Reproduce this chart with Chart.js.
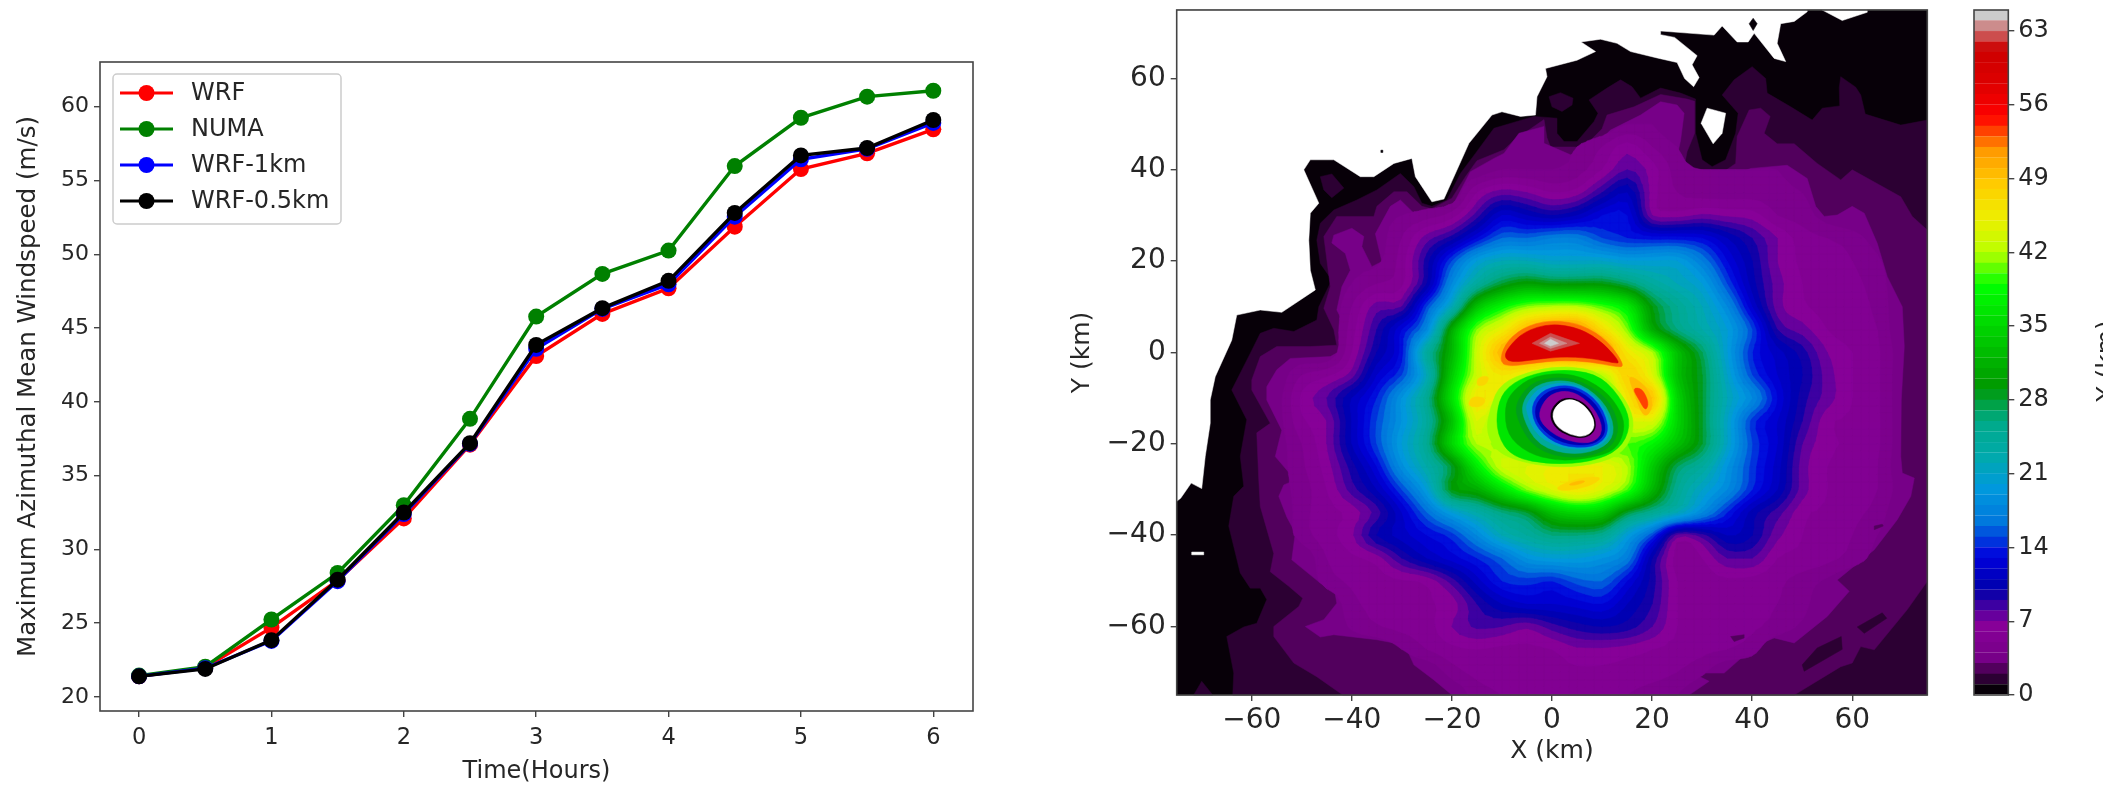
<!DOCTYPE html>
<html><head><meta charset="utf-8">
<script src="https://cdn.jsdelivr.net/npm/chart.js@4"></script>
<style>
html,body{margin:0;background:#fff;overflow:hidden}
canvas{position:absolute;top:0;filter:blur(.65px)}
</style></head><body>
<canvas id="lineChart" width="1000" height="786" style="left:0"></canvas>
<canvas id="fieldChart" width="940" height="786" style="left:1000px"></canvas>
<canvas id="barChart" width="167" height="786" style="left:1940px"></canvas>
<script>
// ---- line panel values
const timeHours=[0,0.5,1,1.5,2,2.5,3,3.5,4,4.5,5,5.5,6];
const WRF=[21.4,22.0,24.7,27.9,32.1,37.1,43.1,45.96,47.7,51.87,55.78,56.84,58.47];
const NUMA=[21.45,22.05,25.25,28.4,33.0,38.85,45.78,48.67,50.25,55.98,59.25,60.68,61.08];
const WRF1km=[21.4,21.95,23.8,27.85,32.4,37.15,43.6,46.3,47.97,52.55,56.44,57.15,58.9];
const WRF05km=[21.4,21.9,23.85,27.95,32.5,37.2,43.86,46.35,48.2,52.8,56.7,57.2,59.1];
const lineXTicks=[0,1,2,3,4,5,6];
const lineYTicks=[20,25,30,35,40,45,50,55,60];
// ---- field panel axes
const fieldTicks=[-60,-40,-20,0,20,40,60];
const barTicks=[0,7,14,21,28,35,42,49,56,63];
// ---- wind speed read on a 5 km grid (m/s)
const gridX=[-60,-55,-50,-45,-40,-35,-30,-25,-20,-15,-10,-5,0,5,10,15,20,25,30,35,40,45,50,55,60,65,70];
const gridY=[50,45,40,35,30,25,20,15,10,5,0,-5,-10,-15,-20,-25,-30,-35,-40,-45,-50,-55,-60,-65,-70,-75];
const r50=[3,3,3,3,3,3,3,3,3,3,3,3,3,3,3,4,4,3,3,3,3,3,3,3,3,3,3];
const r45=[3,3,3,3,3,3,3,3,3,3,3,3,3.5,4,5,6.5,5,4,3,3,3,3,3,3,3,3,3];
const r40=[3,3,3,3,3,3,3,3,3,3.2,4,4,4,4.5,6,8,6.5,4.5,4,4,4,4,3,3,3,3,3];
const r35=[3,3,3,3,3,3,3,3.2,3,6,7.5,7,6,6.5,9,11,6.5,5,4.5,4.5,4.5,4.5,4,3.2,3,3,3];
const r30=[3,3,3,3,3,3.5,4,4.5,5.5,8.5,12,11,10,11,13,13,7,6.5,7.2,6.8,6.5,5,4.5,3.5,3,3,3];
const r25=[3,3,3,3,3,3.5,5,7.5,9.5,13,16,16,17,17,15,14,13.5,13.5,13,11,9,7,5.5,5,4.5,3.5,3];
const r20=[3,3,3,3,3.6,3.8,5.5,9.5,15,20,22,22,21,21,21,20,20,20,17,13,10,7,5.8,5.5,5,4.2,3];
const r15=[3,3,3,3,4,5,5.8,10,18,24,28,30,29,29,29,27,24,22,20,15,10.5,7.5,6,5.6,5.2,4.6,3];
const r10=[3,3,3,3,5,7.5,8,15,22,33,38,41,42,42,40,37,29,25,22,18,12,7.5,6.2,5.6,5.2,4.8,3];
const r5=[3,3,3,3,5.5,9,13,18,31,41,45,50,52,52,47,41,31,26,23,20,15,9,7.5,6,5.4,5,3];
const r0=[3,3,3,3,6,10,13.5,24,32,43,50,52,52,52,52,46,42,33,27,20,14,11.5,9.5,7,6,5.2,3.4];
const rm5=[3,3.2,5,5.8,7.5,12,15,22,34,43,46,44,42,42,42,48,44,33,28,21,15,12,10,7.5,6,5.2,3.3];
const rm10=[3,3.5,6.2,8,11,14,19,25,36,46,44,38,38,38,38,46,49,35,28,22,18,13,9.5,7.5,6,5.2,3.3];
const rm15=[3,3.5,5.8,7,11,15,19,24,33,44,38,38,38,38,38,44,44,35,28,21,14.5,12,9,6.3,5.8,5.2,3.3];
const rm20=[3,3.5,5,7,11,15,20,25,35,42,41,38,38,38,38,40,38,33,28,21,15,12,8,6.3,5.8,5.2,3.3];
const rm25=[3,3.5,4.8,6.5,9.5,13,18.5,23,28,37,43,44,45,45,45,42,34,27,24,19,14.5,11.5,7.5,6,5.6,5,3.2];
const rm30=[3,3.5,4.5,6,8.5,11,15,20,29,31,36,41,44,46,44,40,32,25,21,18,14,11,7.5,6,5.6,5,3.5];
const rm35=[3,3,4.6,5.6,6.4,8.5,12,16,20,23,26,28,33,35,34,28,25,22,18,14,10.5,8.5,6.3,5.8,5.3,4.6,3];
const rm40=[3,3,4.5,5.6,6.8,10,11.5,13,14.5,18,22,24,26,26,25,20,15,7.5,8.5,11,10,7.3,6,5.5,5,4,3];
const rm45=[3,3,3,5,5.8,6.5,9,11,12.5,14,16,19,20,20,19,17,10,5.5,6,8,8,6,5.7,5.3,4.6,3.6,3];
const rm50=[3,3,3,4.5,5.2,5.6,5.9,6.3,8.5,11.5,14,14.5,14,15.5,16,13,9.5,6,5.6,5.8,5.6,5.2,4.6,3.8,3,3,3];
const rm55=[3,3,3,3,4.7,5.3,5.7,5.9,6.5,9,11,12,12,12.5,13,11,9,6,5.6,5.6,5.3,5,4.4,3,3,3,3];
const rm60=[3,3,3,3,4.2,4.9,5.3,5.6,7,8.2,8,7.2,8.5,9.5,10,9.5,8,6,5.6,5.5,5.2,4.6,3.8,3,3,3,3];
const rm65=[3,3,3,3,3,3,4,5,5.7,6,5.7,5.8,6,6.8,6.8,6.5,6,5.6,5.3,5,4.4,3,3,3,3,3,3];
const rm70=[3,3,3,3,3,3,3,3,4.5,5.3,5.5,5.6,5.7,5.8,5.8,5.6,5.4,5,4.2,3,3,3,3,3,3,3,3];
const rm75=[3,3,3,3,3,3,3,3,3,4.5,5,5.2,5.3,5.3,5.3,5,4.6,4,3,3,3,3,3,3,3,3,3];
const gridRows=[r50,r45,r40,r35,r30,r25,r20,r15,r10,r5,r0,rm5,rm10,rm15,rm20,rm25,rm30,rm35,rm40,rm45,rm50,rm55,rm60,rm65,rm70,rm75];
// ---- contours (x km, y km)
const domain=[[-75,-75],[-75,75],[75,75],[75,-75]];
const contour1=[[-63.8,-75],[-63.6,-70.2],[-65,-62.2],[-61.6,-60.1],[-59,-59.3],[-57,-54.1],[-58.3,-51.6],[-60.3,-51.6],[-62.3,-48.3],[-64.6,-38],[-63.6,-31.5],[-61.6,-29.3],[-62.3,-22.8],[-61,-14.7],[-64,-8.2],[-60.3,-0.2],[-58.3,4.2],[-55.6,5.3],[-51.6,4.6],[-47,7.1],[-46.6,10],[-44,15.9],[-46.3,19.5],[-47,24.6],[-46.3,28.3],[-43.6,31.2],[-39,33.4],[-35,35.6],[-30.3,39.2],[-27.6,36.3],[-26,32.7],[-24,32],[-21,33.4],[-18.3,39.2],[-15.3,43.6],[-11.6,49.1],[-3.6,51.7],[1,51.3],[1,48],[2.4,46.2],[5,46.2],[8.4,50.6],[9.2,52.4],[7.4,55.3],[11,57.9],[13.7,59.7],[16,58.2],[17.7,55.7],[21.7,57.9],[25.7,56.8],[28.7,55.5],[28.7,48],[30,42.2],[32,40.7],[34.7,42.2],[36.7,48],[37.2,52.4],[34,56.4],[36.4,59.7],[40,62.6],[42.7,60],[43,56.8],[47.7,53.8],[52,50.9],[54,53.5],[57.5,54],[57.4,58],[57.7,60.4],[60.7,58.1],[61.7,56.4],[62.6,52.2],[69.7,49.8],[75,50.9],[75,-75]];
const contour2=[[-41.8,-75],[-47,-71],[-51.6,-68],[-55.6,-62.2],[-55.6,-60],[-50.6,-55.6],[-49.8,-53.8],[-52.6,-51.2],[-56.3,-48],[-55.6,-44],[-58.3,-33.7],[-58.6,-27.9],[-59,-17.6],[-56.3,-15.5],[-60,-8.2],[-60,-6],[-58.3,-0.9],[-55,1.3],[-48.3,1.3],[-43,1.6],[-43.6,5],[-45.6,9.7],[-44.3,14.4],[-45.6,25.4],[-43,29.8],[-35.6,29.8],[-35,32],[-31.6,35.2],[-29,35.2],[-26,32],[-24,31.5],[-20,33.8],[-17.3,38.5],[-15,42],[-9.6,44.4],[-7.6,46.5],[-1.6,51],[-1,47],[-0.3,45],[6.4,45],[10,49],[11,52],[16.4,53.8],[21.7,56.5],[27,55.5],[28.5,55],[28.5,48],[27,44],[26.4,40.7],[28.4,37.4],[32,37.8],[36.7,41.4],[37,47.3],[39.4,53.1],[41.7,53.5],[43.6,51.7],[42.4,48],[45,45.7],[48.4,45.7],[53,41.4],[57.7,37.8],[60,40],[69.7,34.1],[72,29.8],[75,26.8],[75,-50.1],[71,-56.3],[64.4,-65.1],[61.7,-64.4],[60,-68],[57.7,-68.8],[48.4,-75]];
const contour3=[[-20,-75],[-23.6,-71.7],[-27.6,-68.4],[-29,-65],[-31.6,-63.6],[-35,-62.9],[-43.6,-61.8],[-46.3,-62.3],[-49.3,-60],[-45.6,-58.5],[-43,-54.9],[-43.6,-51.2],[-46.3,-50.5],[-52,-45.4],[-51.3,-39.5],[-53,-36],[-54.6,-31.5],[-53.6,-29],[-51.3,-27.9],[-55.3,-22.8],[-54,-17],[-57,-10.4],[-57,-7.5],[-55,-3.8],[-52.3,-1.3],[-44.3,-0.9],[-39.6,2],[-43,9.3],[-42,14.4],[-40.3,18],[-41.3,21.7],[-44,24],[-43.6,25.7],[-40,27.2],[-37.6,25.4],[-38,23.2],[-36,18.8],[-34,19.9],[-35.3,26],[-32.3,32],[-30.3,33.4],[-27.6,30.5],[-26.3,29.9],[-19.6,32.7],[-16.3,39.6],[-11.6,42.5],[-9.6,43.6],[-6.6,48],[-1.6,49.5],[-1.6,45.8],[3.7,43.3],[7.7,44.4],[11.7,48.7],[17.7,52],[21.7,54.9],[25,54.2],[26.4,52.4],[25.7,46.5],[24.7,41.4],[25.7,37],[28.7,36.5],[33,37.4],[39.7,40.3],[47,41],[51,38.1],[52.7,32],[54.4,29.8],[57,30.1],[60,32],[62.4,30.5],[65,23.9],[67,16.6],[70,10],[70.4,1.3],[69.8,-10.4],[69.7,-22.8],[70,-26.4],[72.4,-27.5],[71.7,-31.5],[69,-36.6],[64.4,-43.2],[57,-49.8],[59.4,-52.3],[55,-57.8],[48.4,-63.6],[44.4,-62.5],[40.4,-64.4],[34.4,-70.2],[28,-70.2],[31.4,-72],[27.4,-75]];
const islandA=[[-46.3,38.5],[-44,39.1],[-41.6,36],[-44,33.9],[-45.6,35.6]];
const islandB=[[-0.6,56],[1.7,56.9],[4.2,55.7],[4,54.2],[2,52.8],[0,53.8]];
const islandC=[[-71.6,-75],[-70,-72],[-67.8,-75]];
const stripA=[[50,-68.4],[50.4,-69.8],[58,-65],[57.8,-62.2],[53,-64.7]];
const stripB=[[61,-60.1],[66,-57],[66.9,-58.2],[62.4,-61.5]];
const spotA=[[35.7,-62.2],[38.4,-61.8],[38.4,-62.5],[36.4,-63.3]];
const spotB=[[64.4,-38],[66,-37.6],[66.2,-38],[64.4,-38.8]];
const blankNW=[[-75,75],[-75,-32.6],[-74.2,-31.9],[-72.1,-28.6],[-70,-29.8],[-69.3,-22.8],[-68.3,-15.5],[-68.3,-10.4],[-67.3,-5.3],[-64,2.7],[-63,8.2],[-58.3,9.3],[-54,8.8],[-47.3,13.7],[-48.3,18],[-48.6,24.6],[-48.3,30.5],[-46.6,32.7],[-49.6,40],[-48.3,42.2],[-43.6,42.2],[-38.3,38.5],[-35.6,38.5],[-31.6,41.4],[-28,42.5],[-27.3,38.5],[-24,33],[-21.6,33.6],[-16.6,45.8],[-12,52],[-10,52.7],[-6.3,51.7],[-3.3,52],[-3,56],[-1,60.4],[-1.3,62.2],[5,64],[8.7,65.9],[5.8,68],[9.7,68.6],[13,67.7],[15.7,65.9],[21,64.5],[25,63.5],[26.5,60],[28.3,58.2],[29.4,60.2],[28,63],[29,65],[24.5,69],[21.7,69.6],[21.7,70.4],[32.4,69.5],[34,71.5],[37,68],[39.2,68],[40.4,69.9],[44.4,64.4],[46.7,63.7],[45,67.7],[45.7,72],[48.4,72.5],[51,74.6],[51,75]];
const blankN=[[54,75],[58,72.7],[63,74.5],[63,75]];
const blankHole=[[29.8,50.2],[31,53.5],[34.7,52.4],[34,48],[32.2,45.7]];
const blankDash=[[-72,-43.7],[-69.6,-43.7],[-69.6,-44.3],[-72,-44.3]];
const speckA=[[-34.2,44.3],[-33.8,44.3],[-33.8,43.8],[-34.2,43.8]];
const speckB=[[39.4,72],[40.2,73.2],[41,72],[40.2,70.5]];
const core52=[[-10.5,-2.4],[-9.5,1.8],[-6,5.4],[-0.3,7.2],[6.2,6.1],[11.3,2.4],[14.6,-3],[13,-3.2],[7.7,-2],[1.7,-1.7],[-3.6,-2.3],[-8,-3]];
const core58=[[-9.6,-0.9],[-8.6,1.3],[-5.6,4.6],[-0.3,6.4],[5.7,5.3],[10.4,2],[13.7,-2.3],[12.4,-2.3],[7.7,-1.2],[1.7,-0.9],[-3.6,-1.6],[-8.3,-2.2]];
const core62=[[-4,2],[-0.3,4.2],[5.5,2],[-0.3,0.3]];
const core63=[[-2.5,2],[-0.3,3.4],[3,2],[-0.3,0.9]];
const core64=[[-1.5,2],[-0.3,2.9],[1.3,2],[-0.3,1.4]];
const patchE49=[[15,-4.5],[19,-7.4],[20.4,-11.8],[18.4,-14.7],[16.4,-8.9]];
const patchE53=[[16,-7.8],[18,-7.8],[19.4,-11],[18.7,-12.9],[17.4,-10.4]];
const patchS47=[[0.4,-29.7],[5,-27.5],[10.4,-27.1],[7.7,-29.3],[2.4,-30.4]];
const patchS49=[[3,-28.9],[5.5,-28],[7,-28.2],[4.5,-29.2]];
const patchW47a=[[-17,-11.8],[-14,-12],[-13,-10],[-16,-9.5]];
const patchW47b=[[-15,-5.5],[-12.5,-5],[-13,-7],[-15,-7.5]];
const ring41=[[-12.3,-11.8],[-10.3,-6.7],[-3.6,-3.8],[3,-2.9],[9.7,-4.2],[15,-10.4],[16.7,-16.2],[14.4,-22],[8.4,-24.6],[-0.3,-25.3],[-10.3,-22.8],[-13.3,-17.6]];
const ring36=[[-11,-11.8],[-9,-7.4],[-3.6,-4.5],[3.5,-3.6],[10,-5.2],[14.4,-11],[15.8,-16.2],[13.5,-21.3],[8,-23.9],[0,-24.6],[-8,-23],[-11,-18]];
const ring31=[[-9.5,-12],[-8,-8.5],[-3.6,-5],[4,-4.4],[10.5,-8],[13.9,-13],[14.6,-17],[12.7,-21.5],[7.5,-23.2],[1,-23.8],[-5,-22],[-9,-18]];
const ring28=[[-7.3,-14],[-7,-10.4],[-3.6,-6],[4,-5.2],[11,-9.6],[13.7,-16.2],[11.7,-21.3],[4.4,-23.5],[-3.6,-21.3]];
const ring24=[[-6,-14],[-5.8,-10.4],[-2.8,-6.6],[4.2,-5.9],[10.2,-10.2],[12.8,-16.7],[10.8,-20.8],[4.4,-22.6],[-2.8,-20.5]];
const ring20=[[-5.2,-13],[-5,-10.8],[-2.2,-7.2],[4.3,-6.4],[9.9,-10.5],[12.2,-17.2],[9.5,-20.9],[3,-21.4],[-3,-18.5]];
const ring14=[[-4.4,-11.8],[-1.6,-7.8],[4.4,-6.9],[9.7,-11],[11.7,-17.6],[8.4,-20.9],[1.7,-20.6],[-3,-16.9]];
const ring10=[[-3.7,-12],[-1,-8.3],[4.2,-7.5],[9.2,-11.3],[11.2,-17.4],[8.1,-20.5],[1.7,-19.9],[-2.7,-16.2]];
const ring6=[[-2.6,-12.5],[-0.3,-8.9],[4,-8.2],[8.4,-11.8],[10.5,-17.3],[7.7,-20.2],[1.7,-19],[-2.3,-15.5]];
const ring1=[[-0.6,-13.3],[1.3,-10.3],[4,-9.8],[6.9,-11.3],[8.8,-14.7],[8.6,-17.3],[6.6,-18.8],[3.5,-18.4],[0.5,-16.5]];
const eyeBlank=[[-0.1,-13.3],[1.6,-10.7],[4,-10.1],[6.6,-11.6],[8.5,-14.7],[8.3,-17.1],[6.5,-18.5],[3.7,-18.1],[0.8,-16.2]];

// ---- nipy_spectral palette
const paletteStops=[[0,0,0],[.4667,0,.5333],[.5333,0,.6],[0,0,.6667],[0,0,.8667],[0,.4667,.8667],[0,.6,.8667],[0,.6667,.6667],[0,.6667,.5333],[0,.6,0],[0,.7333,0],[0,.8667,0],[0,1,0],[.7333,1,0],[.9333,.9333,0],[1,.8,0],[1,.6,0],[1,0,0],[.8667,0,0],[.8,0,0],[.8,.8,.8]];
const bandCount=65;
function bandColor(i){
  const t=(i+.2)/(bandCount-.8)*20, a=Math.min(19,Math.floor(t)), f=t-a;
  const c=paletteStops[a].map((u,j)=>Math.round(255*(u+(paletteStops[a+1][j]-u)*f)));
  return `rgb(${c[0]},${c[1]},${c[2]})`;
}

// ---- a scatter dataset whose points outline filled regions
class FilledRegionController extends Chart.ScatterController{
  draw(){
    const ctx=this.chart.ctx, pts=this._cachedMeta.data, ds=this.getDataset(), col=ds.regionColor;
    ctx.save();ctx.fillStyle=col;ctx.strokeStyle=col;ctx.lineWidth=.5;ctx.lineJoin='round';
    ctx.beginPath();
    if(ds.rounded){
      const n=pts.length;
      ctx.moveTo((pts[n-1].x+pts[0].x)/2,(pts[n-1].y+pts[0].y)/2);
      for(let i=0;i<n;i++){const a=pts[i],b=pts[(i+1)%n];ctx.quadraticCurveTo(a.x,a.y,(a.x+b.x)/2,(a.y+b.y)/2);}
      ctx.closePath();
    }else{
      let open=false;
      for(const p of pts){
        if(p.skip||!isFinite(p.x)||!isFinite(p.y)){if(open)ctx.closePath();open=false;continue;}
        if(open)ctx.lineTo(p.x,p.y);else{ctx.moveTo(p.x,p.y);open=true;}
      }
      if(open)ctx.closePath();
    }
    ctx.fill();ctx.stroke();ctx.restore();
  }
}
FilledRegionController.id='filledRegion';
FilledRegionController.defaults=Chart.ScatterController.defaults;
FilledRegionController.overrides=Chart.ScatterController.overrides;
Chart.register(FilledRegionController);

function region(pts,level,col,rounded){
  return {type:'filledRegion',data:pts.map(p=>({x:p[0],y:p[1]})),regionColor:col||bandColor(level),rounded:!!rounded,pointRadius:0,pointHoverRadius:0,borderWidth:0};
}
const soft=(pts,level,col)=>region(pts,level,col,true);
gridRows.forEach((r,i)=>{if(r.length!==gridX.length)throw new Error('row '+i+' has '+r.length);});

// contour the read grid: smooth cubic resampling between the read values, as a contouring routine does
const SUB=3;
function cr(p0,p1,p2,p3,t){return .5*(2*p1+(p2-p0)*t+(2*p0-5*p1+4*p2-p3)*t*t+(3*p1-p0-3*p2+p3)*t*t*t);}
function rowAt(j,i,u){
  const g=gridRows[j],n=g.length-1,q=k=>g[Math.max(0,Math.min(n,k))];
  return cr(q(i-1),q(i),q(i+1),q(i+2),u);
}
const fineN=(gridX.length-1)*SUB+1, fineM=(gridY.length-1)*SUB+1, fine=[];
for(let b=0;b<fineM;b++){
  const row=[],j=Math.min(gridY.length-2,Math.floor(b/SUB)),v=b/SUB-j,m=gridRows.length-1,rj=k=>Math.max(0,Math.min(m,k));
  for(let a=0;a<fineN;a++){
    const i=Math.min(gridX.length-2,Math.floor(a/SUB)),u=a/SUB-i;
    const val=cr(rowAt(rj(j-1),i,u),rowAt(j,i,u),rowAt(j+1,i,u),rowAt(rj(j+2),i,u),v);
    const c=[gridRows[j][i],gridRows[j][i+1],gridRows[j+1][i],gridRows[j+1][i+1]];
    row.push([gridX[i]+(gridX[i+1]-gridX[i])*u,gridY[j]+(gridY[j+1]-gridY[j])*v,Math.max(Math.min(...c),Math.min(Math.max(...c),val))]);
  }
  fine.push(row);
}
function clipAt(tri,k){
  const out=[];
  for(let i=0;i<3;i++){
    const a=tri[i],b=tri[(i+1)%3];
    if(a[2]>=k)out.push({x:a[0],y:a[1]});
    if((a[2]>=k)!==(b[2]>=k)){const f=(k-a[2])/(b[2]-a[2]);out.push({x:a[0]+(b[0]-a[0])*f,y:a[1]+(b[1]-a[1])*f});}
  }
  return out;
}
function gridLevel(k){
  const data=[];
  for(let b=0;b<fineM-1;b++)for(let a=0;a<fineN-1;a++){
    const A=fine[b][a],B=fine[b][a+1],C=fine[b+1][a+1],D=fine[b+1][a];
    for(const t of [[A,B,C],[A,C,D]]){
      const mx=Math.max(t[0][2],t[1][2],t[2][2]),mn=Math.min(t[0][2],t[1][2],t[2][2]);
      if(mx<k||mn>=k+1.5)continue;
      data.push(...clipAt(t,k),{x:null,y:null});
    }
  }
  return {type:'filledRegion',data,regionColor:bandColor(k),pointRadius:0,pointHoverRadius:0,borderWidth:0};
}

const paint=[region(domain,0),region(islandC,1),region(contour1,1),region(contour2,2),region(contour3,3)];
for(let k=4;k<=52;k++)paint.push(gridLevel(k));
paint.push(region(islandA,1),region(islandB,1),region(stripA,1),region(stripB,1),region(spotA,2),region(spotB,2));
for(const b of [blankNW,blankN,blankHole,blankDash])paint.push(region(b,0,'#ffffff'));
paint.push(region(speckA,0),region(speckB,0));
paint.push(soft(patchE49,49),soft(patchE53,53),soft(patchS47,47),soft(patchS49,49),soft(patchW47a,47),soft(patchW47b,47));
paint.push(soft(core52,52),soft(core58,58),region(core62,62),region(core63,63),region(core64,64));
paint.push(soft(ring41,41),soft(ring36,36),soft(ring31,31),soft(ring28,28),soft(ring24,24),soft(ring20,20),soft(ring14,14),soft(ring10,10),soft(ring6,6),soft(ring1,0),soft(eyeBlank,0,'#ffffff'));
paint.reverse(); // Chart.js paints the last dataset first

// ---- common helpers
const FF='"DejaVu Sans"', INK='#262626', EDGE='#444444';
const frame={id:'frame',afterDatasetsDraw(c){const a=c.chartArea,x=c.ctx;x.save();x.strokeStyle=EDGE;x.lineWidth=1.6;x.strokeRect(a.left,a.top,a.right-a.left,a.bottom-a.top);x.restore();}};
function axis(o){
  return {type:'linear',min:o.min,max:o.max,position:o.pos,
    afterBuildTicks:s=>{s.ticks=o.ticks.map(v=>({value:v}));},
    afterFit:s=>{if(o.w!==undefined)s.width=o.w;if(o.h!==undefined)s.height=o.h;s.paddingTop=0;s.paddingBottom=0;s.paddingLeft=0;s.paddingRight=0;},
    grid:{display:true,drawOnChartArea:false,drawTicks:true,tickLength:o.tl||6,color:EDGE,lineWidth:1.4},
    border:{display:false},
    ticks:{color:INK,font:{family:FF,size:o.fs},padding:o.pad,maxRotation:0,autoSkip:false,callback:v=>String(v).replace('-','\u2212')},
    title:o.title?{display:true,text:o.title,color:INK,font:{family:FF,size:o.tfs},padding:o.tpad}:{display:false}};
}
const legendRows=[['WRF','#ff0000',93],['NUMA','#008000',129],['WRF-1km','#0000ff',165],['WRF-0.5km','#000000',201]];
const legendBox={id:'legendBox',afterDatasetsDraw(c){
  const x=c.ctx;x.save();
  x.fillStyle='rgba(255,255,255,.85)';x.strokeStyle='#cccccc';x.lineWidth=1.5;
  x.beginPath();x.roundRect(113,74,228,150,4);x.fill();x.stroke();
  for(const [t,col,y] of legendRows){
    x.strokeStyle=col;x.lineWidth=3.2;x.beginPath();x.moveTo(120,y);x.lineTo(173,y);x.stroke();
    x.fillStyle=col;x.beginPath();x.arc(146.5,y,8,0,7);x.fill();
    x.fillStyle=INK;x.font='24px '+FF;x.textBaseline='middle';x.fillText(t,191,y+1);
  }
  x.restore();
}};
function series(label,vals,col,order){
  return {label,data:timeHours.map((t,i)=>({x:t,y:vals[i]})),borderColor:col,backgroundColor:col,borderWidth:3.4,pointRadius:8,pointBorderWidth:0,pointHoverRadius:8,order,tension:0};
}
new Chart(document.getElementById('lineChart'),{type:'line',
  data:{datasets:[series('WRF',WRF,'#ff0000',4),series('NUMA',NUMA,'#008000',3),series('WRF-1km',WRF1km,'#0000ff',2),series('WRF-0.5km',WRF05km,'#000000',1)]},
  options:{responsive:false,animation:false,events:[],
    layout:{padding:{left:0,top:62,right:27,bottom:0}},
    plugins:{legend:{display:false},tooltip:{enabled:false}},
    scales:{
      x:axis({min:-0.295,max:6.3,pos:'bottom',ticks:lineXTicks,h:75,fs:22.5,pad:8,title:'Time(Hours)',tfs:24,tpad:0}),
      y:axis({min:19.05,max:63.03,pos:'left',ticks:lineYTicks,w:100,fs:22,pad:5,title:'Maximum Azimuthal Mean Windspeed (m/s)',tfs:24.5,tpad:14})
    }},plugins:[frame,legendBox]});

new Chart(document.getElementById('fieldChart'),{type:'scatter',
  data:{datasets:paint},
  options:{responsive:false,animation:false,events:[],
    layout:{padding:{left:0,top:10,right:12.7,bottom:0}},
    plugins:{legend:{display:false},tooltip:{enabled:false}},
    scales:{
      x:axis({min:-75,max:75,pos:'bottom',ticks:fieldTicks,h:91,fs:28,pad:3,title:'X (km)',tfs:25,tpad:{top:0,bottom:20}}),
      y:axis({min:-75,max:75,pos:'left',ticks:fieldTicks,w:176.7,fs:28,pad:5,title:'Y (km)',tfs:25,tpad:67})
    }},plugins:[frame]});

const bandSets=[];
for(let i=0;i<bandCount;i++)bandSets.push({data:[1],backgroundColor:bandColor(i),borderColor:bandColor(i),borderWidth:.4,barPercentage:1,categoryPercentage:1,stack:'cb'});
const cutLabel={id:'cutLabel',afterDraw(c){
  const x=c.ctx;x.save();x.beginPath();x.rect(140,0,23,786);x.clip();
  x.translate(174,361);x.rotate(-Math.PI/2);x.fillStyle=INK;x.font='25px '+FF;x.textAlign='center';x.textBaseline='alphabetic';
  x.fillText('Y (km)',0,0);x.restore();
}};
const barY=axis({min:0,max:65,pos:'right',ticks:barTicks,w:98.7,fs:24,pad:4,tl:6});
barY.stacked=true;
new Chart(document.getElementById('barChart'),{type:'bar',
  data:{labels:[''],datasets:bandSets},
  options:{responsive:false,animation:false,events:[],
    layout:{padding:{left:34,top:10,right:0,bottom:91}},
    plugins:{legend:{display:false},tooltip:{enabled:false}},
    scales:{x:{display:false,stacked:true},y:barY}},plugins:[frame,cutLabel]});
</script>
</body></html>
